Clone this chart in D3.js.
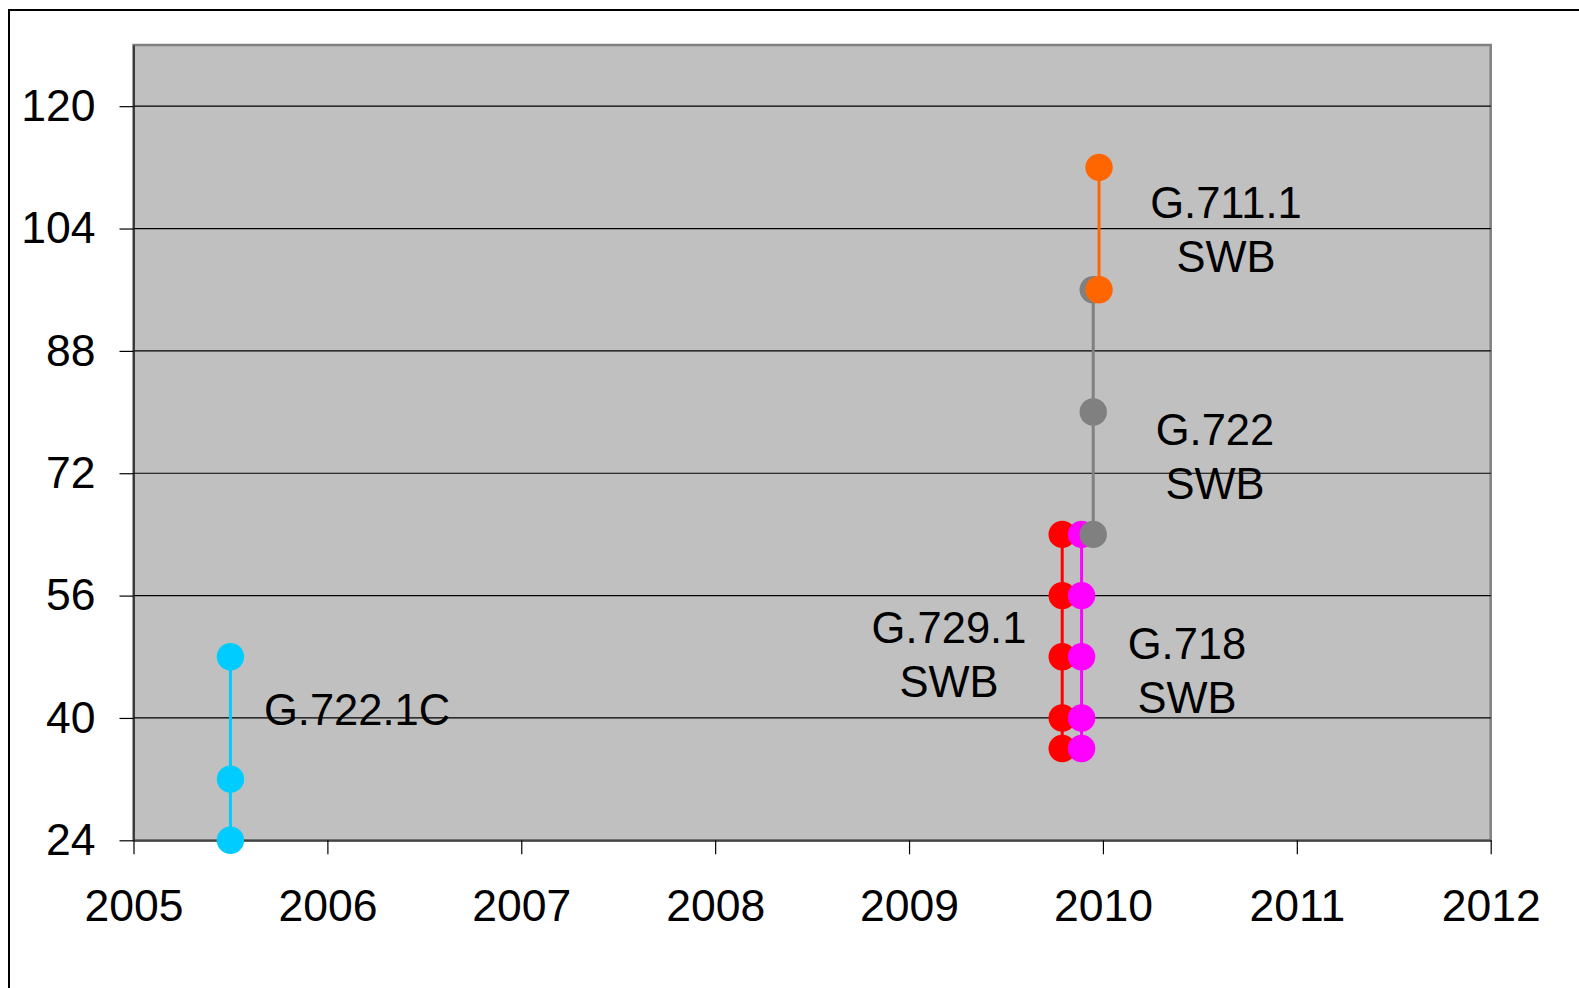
<!DOCTYPE html>
<html>
<head>
<meta charset="utf-8">
<script src="https://cdn.jsdelivr.net/npm/d3@7"></script>
<style>
  html, body { margin: 0; padding: 0; background: #fff; }
  svg { display: block; font-family: "Liberation Sans", Arial, sans-serif; }
</style>
</head>
<body>
<div id="chart"></div>
<script>
// data
const yearTicks = [2005, 2006, 2007, 2008, 2009, 2010, 2011, 2012];
const rateTicks = [24, 40, 56, 72, 88, 104, 120];
const codecNames = ['G.722.1C', 'G.729.1 SWB', 'G.718 SWB', 'G.722 SWB', 'G.711.1 SWB'];
const codecYears = [2005.5, 2009.79, 2009.89, 2009.95, 2009.98];
const codecRates = [
  [24, 32, 48],
  [36, 40, 48, 56, 64],
  [36, 40, 48, 56, 64],
  [64, 80, 96],
  [96, 112]
];
const codecColors = ['#00CCFF', '#FF0000', '#FF00FF', '#808080', '#FF6600'];

const width = 1579;
const height = 988;
const plotLeft = 133.5;
const plotRight = 1490.7;
const plotTop = 45;
const plotBottom = 840.3;
const fontSize = 44.5;

const x = d3.scaleLinear().domain([2005, 2012]).range([plotLeft, plotRight]);
const y = d3.scaleLinear().domain([24, 128]).range([plotBottom, plotTop]);

const svg = d3.select('#chart').append('svg')
  .attr('width', width)
  .attr('height', height);

// outer frame
svg.append('rect')
  .attr('x', 9).attr('y', 10)
  .attr('width', width).attr('height', height)
  .attr('fill', 'none')
  .attr('stroke', '#000')
  .attr('stroke-width', 2);

// plot area
svg.append('rect')
  .attr('x', plotLeft).attr('y', plotTop)
  .attr('width', plotRight - plotLeft).attr('height', plotBottom - plotTop)
  .attr('fill', '#C0C0C0')
  .attr('stroke', '#808080')
  .attr('stroke-width', 2.5);

// gridlines
svg.append('g')
  .selectAll('line')
  .data(rateTicks.filter(d => d !== 24))
  .enter()
  .append('line')
  .attr('x1', plotLeft).attr('x2', plotRight)
  .attr('y1', d => y(d)).attr('y2', d => y(d))
  .attr('stroke', '#000')
  .attr('stroke-width', 1.2);

// y axis
const yAxis = svg.append('g')
  .attr('transform', `translate(${plotLeft},0)`)
  .call(d3.axisLeft(y).tickValues(rateTicks).tickSize(14).tickPadding(24).tickSizeOuter(0));
yAxis.select('.domain').attr('stroke', '#222').attr('stroke-width', 1.5);
yAxis.selectAll('.tick line').attr('stroke', '#000').attr('stroke-width', 1.2);
yAxis.selectAll('text')
  .attr('font-size', fontSize)
  .attr('font-family', '"Liberation Sans", Arial, sans-serif')
  .attr('fill', '#000');

// x axis
const xAxis = svg.append('g')
  .attr('transform', `translate(0,${plotBottom})`)
  .call(d3.axisBottom(x).tickValues(yearTicks).tickFormat(d3.format('d')).tickSize(14).tickPadding(35).tickSizeOuter(0));
xAxis.select('.domain').attr('stroke', '#444').attr('stroke-width', 2);
xAxis.selectAll('.tick line').attr('stroke', '#000').attr('stroke-width', 1.2);
xAxis.selectAll('text')
  .attr('font-size', fontSize)
  .attr('font-family', '"Liberation Sans", Arial, sans-serif')
  .attr('fill', '#000');

// series: drop lines + markers
const series = codecNames.map((name, i) => ({
  name,
  year: codecYears[i],
  rates: codecRates[i],
  color: codecColors[i]
}));

const $series = svg.append('g')
  .selectAll('.series')
  .data(series)
  .enter()
  .append('g')
  .attr('class', 'series');

$series.append('line')
  .attr('x1', d => x(d.year)).attr('x2', d => x(d.year))
  .attr('y1', d => y(d3.min(d.rates))).attr('y2', d => y(d3.max(d.rates)))
  .attr('stroke', d => d.color)
  .attr('stroke-width', 3);

$series.selectAll('circle')
  .data(d => d.rates.map(r => ({ year: d.year, rate: r, color: d.color })))
  .enter()
  .append('circle')
  .attr('cx', d => x(d.year))
  .attr('cy', d => y(d.rate))
  .attr('r', 13.7)
  .attr('fill', d => d.color);

// labels (pixel layout)
const labelLayout = [
  { lines: ['G.722.1C'], x: 264, y: 725, anchor: 'start' },
  { lines: ['G.729.1', 'SWB'], x: 949, y: 643, anchor: 'middle' },
  { lines: ['G.718', 'SWB'], x: 1187, y: 659, anchor: 'middle' },
  { lines: ['G.722', 'SWB'], x: 1215, y: 445, anchor: 'middle' },
  { lines: ['G.711.1', 'SWB'], x: 1226, y: 218, anchor: 'middle' }
];

const $labels = svg.append('g')
  .selectAll('text')
  .data(labelLayout)
  .enter()
  .append('text')
  .attr('font-size', 43.5)
  .attr('fill', '#000')
  .attr('text-anchor', d => d.anchor);

$labels.selectAll('tspan')
  .data(d => d.lines.map((t, i) => ({ t, i, x: d.x, y: d.y })))
  .enter()
  .append('tspan')
  .attr('x', d => d.x)
  .attr('y', d => d.y + d.i * 54)
  .text(d => d.t);
</script>
</body>
</html>
